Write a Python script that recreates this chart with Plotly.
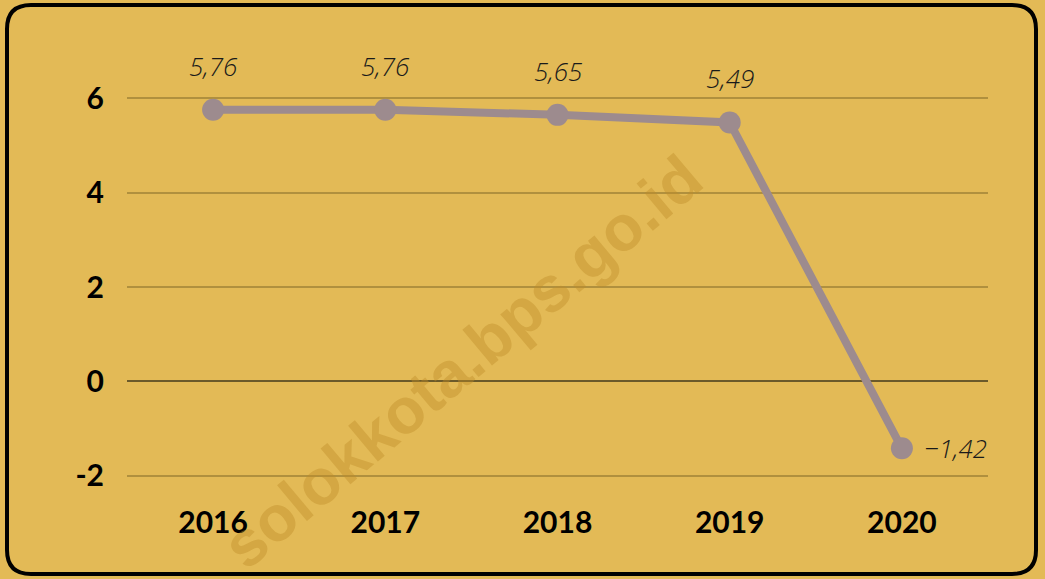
import plotly.graph_objects as go

years = ["2016", "2017", "2018", "2019", "2020"]
growth = [5.76, 5.76, 5.65, 5.49, -1.42]
labels = ["5,76", "5,76", "5,65", "5,49", "-1,42"]
y_ticks = [-2, 0, 2, 4, 6]

W, H = 1045, 579
L, R, T, B = 127, 57, 96, 101
PW, PH = W - L - R, H - T - B

def px(x):
    return (x - L) / PW

def py(y):
    return (H - B - y) / PH

BG = "#E3BA56"
LINE = "#9D8B8E"

fig = go.Figure()
fig.add_trace(go.Scatter(
    x=years, y=growth, mode="lines+markers",
    line=dict(color=LINE, width=8),
    marker=dict(color=LINE, size=22),
    hoverinfo="skip", showlegend=False,
))

label_font = dict(family="Open Sans", size=26, color="#1a1a1a", style="italic", weight=300)
for i, (v, t) in enumerate(zip(growth, labels)):
    if v < 0:
        fig.add_annotation(x=i, y=v, xref="x", yref="y", text=t.replace("-", "\u2212"),
                           showarrow=False, xanchor="left", yanchor="middle", xshift=20,
                           font=label_font)
    else:
        fig.add_annotation(x=i, y=v, xref="x", yref="y", text=t, showarrow=False,
                           xanchor="center", yanchor="middle", yshift=44,
                           font=label_font)

# watermark
fig.add_annotation(xref="paper", yref="paper", x=px(462), y=py(362),
                   xanchor="center", yanchor="middle",
                   text="<b>solokkota.bps.go.id</b>", showarrow=False, textangle=-40,
                   font=dict(family="Liberation Sans", size=64, color="rgba(190,140,40,0.42)"))

# rounded border
x0, x1, y0, y1, r = 7, 1036, 5, 574, 24
path = (f"M {px(x0+r)},{py(y0)} L {px(x1-r)},{py(y0)} "
        f"Q {px(x1)},{py(y0)} {px(x1)},{py(y0+r)} "
        f"L {px(x1)},{py(y1-r)} Q {px(x1)},{py(y1)} {px(x1-r)},{py(y1)} "
        f"L {px(x0+r)},{py(y1)} Q {px(x0)},{py(y1)} {px(x0)},{py(y1-r)} "
        f"L {px(x0)},{py(y0+r)} Q {px(x0)},{py(y0)} {px(x0+r)},{py(y0)} Z")

fig.update_layout(
    width=W, height=H,
    margin=dict(l=L, r=R, t=T, b=B),
    paper_bgcolor=BG, plot_bgcolor=BG,
    shapes=[dict(type="path", xref="paper", yref="paper", path=path,
                 line=dict(color="black", width=4), layer="above")],
    xaxis=dict(type="category", range=[-0.5, 4.5], showgrid=False, zeroline=False,
               showline=False, ticks="", ticklabelstandoff=24,
               tickfont=dict(family="Lato", size=30, color="black", weight="bold")),
    yaxis=dict(range=[-2.05, 6.05], tickvals=y_ticks, ticktext=[str(v) for v in y_ticks],
               showgrid=True, gridcolor="#B0903E", gridwidth=2,
               zeroline=True, zerolinecolor="#6B5A2A", zerolinewidth=2,
               showline=False, ticks="", ticklabelstandoff=22,
               tickfont=dict(family="Lato", size=30, color="black", weight="bold")),
)

fig.write_html("out.html", config={"displayModeBar": False},
               post_script="document.body.style.margin='0';document.body.style.overflow='hidden';")
